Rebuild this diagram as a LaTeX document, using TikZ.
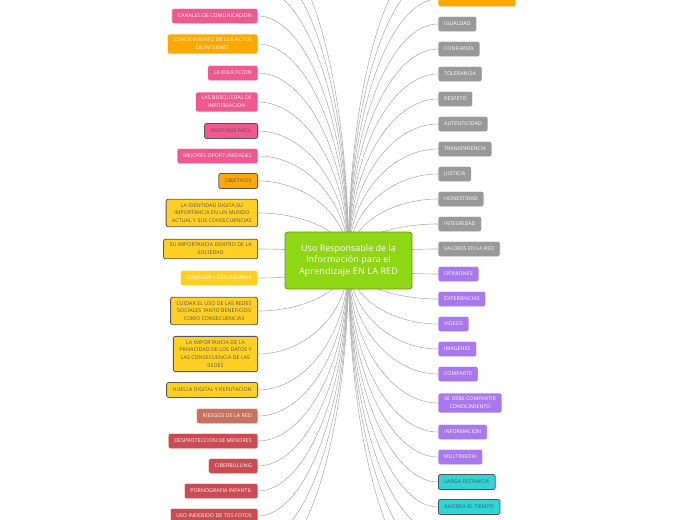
\documentclass[tikz,border=0pt]{standalone}
\usepackage{fontspec}
\setmainfont{Open Sans}[LetterSpace=2]
\usetikzlibrary{calc,backgrounds}
\definecolor{hubgreen}{HTML}{8FD714}
\definecolor{pinkc}{HTML}{F0588E}
\definecolor{orangec}{HTML}{FFA800}
\definecolor{yellowc}{HTML}{FFD023}
\definecolor{salmonc}{HTML}{C9705F}
\definecolor{redc}{HTML}{C84C52}
\definecolor{grayc}{HTML}{999999}
\definecolor{purplec}{HTML}{A879EE}
\definecolor{tealc}{HTML}{2ED6D6}
\definecolor{darkc}{HTML}{555555}
\tikzset{
  leaf/.style={rounded corners=2pt, inner xsep=6pt, inner ysep=4pt, minimum height=15pt, align=center,
    font=\fontsize{5.2}{7.8}\selectfont, text=white, draw=white, line width=0.4pt},
  lleaf/.style={leaf, anchor=east},
  rleaf/.style={leaf, anchor=west},
  framed/.style={draw=darkc, line width=0.8pt, text=darkc},
  link/.style={draw=black!30, line width=0.6pt},
}
\begin{document}
\begin{tikzpicture}[x=1pt,y=-1pt]
	\useasboundingbox (0,0) rectangle (697,520);
	\clip (0,0) rectangle (697,520);

	\node[draw=hubgreen!70!black, fill=hubgreen, rounded corners=3pt, line width=0.8pt,
	  text=white, align=center, font=\fontsize{9}{11.5}\selectfont,
	  minimum width=127pt, minimum height=57pt] (hub) at (348.5,260.5)
	  {\addfontfeature{LetterSpace=0}Uso Responsable de la\\Información para el\\Aprendizaje EN LA RED};

	% left side
	\node[lleaf, fill=pinkc] (canales) at (258,16) {CANALES DE COMUNICACION};
	\node[lleaf, fill=orangec] (actos) at (258,44) {CONOCIMIENTO DE LOS ACTOS\\DE INTERNET};
	\node[lleaf, fill=pinkc] (educacion) at (258,73) {LA EDUCACION};
	\node[lleaf, fill=pinkc] (busquedas) at (258,102) {LAS BUSQUEDAS DE\\INFORMACION};
	\node[lleaf, fill=pinkc, framed] (facil) at (258,131) {HACE MAS FACIL};
	\node[lleaf, fill=pinkc] (oportunidades) at (258,156) {MEJORES OPORTUNIDADES};
	\node[lleaf, fill=orangec, framed] (objetivos) at (258,181) {OBJETIVOS};
	\node[lleaf, fill=yellowc, framed] (identidad) at (258,213) {LA IDENTIDAD DIGITA,SU\\IMPORTANCIA EN UN MUNDO\\ACTUAL Y SUS CONSECUENCIAS};
	\node[lleaf, fill=yellowc, framed] (sociedad) at (258,249) {SU IMPORTANCIA DENTRO DE LA\\SOCIEDAD};
	\node[lleaf, fill=yellowc] (reflexionar) at (258,278) {CONOCER Y REFLEXIONAR};
	\node[lleaf, fill=yellowc, framed] (cuidar) at (258,311) {CUIDAR EL USO DE LAS REDES\\SOCIALES TANTO BENEFICIOS\\COMO CONSECUENCIAS};
	\node[lleaf, fill=yellowc, framed] (privacidad) at (258,354) {LA IMPORTANCIA DE LA\\PRIVACIDAD DE LOS DATOS Y\\LAS CONSECUENCIA DE LAS\\REDES};
	\node[lleaf, fill=yellowc, framed] (huella) at (258,390) {HUELLA DIGITAL  Y REPUTACION};
	\node[lleaf, fill=salmonc] (riesgos) at (258,416) {RIESGOS DE LA RED};
	\node[lleaf, fill=redc] (menores) at (258,441) {DESPROTECCION DE MENORES};
	\node[lleaf, fill=redc] (ciber) at (258,466) {CIBERBULLING};
	\node[lleaf, fill=redc] (porno) at (258,491) {PORNOGRAFIA INFANTIL};
	\node[lleaf, fill=redc] (fotos) at (258,516) {USO INDEBIDO DE TOS FOTOS};

	% right side
	\node[rleaf, fill=orangec] (reflexionarb) at (438,-1) {CONOCER Y REFLEXIONAR};
	\node[rleaf, fill=grayc] (igualdad) at (438,24) {IGUALDAD};
	\node[rleaf, fill=grayc] (confianza) at (438,49) {CONFIANZA};
	\node[rleaf, fill=grayc] (tolerancia) at (438,74) {TOLERANCIA};
	\node[rleaf, fill=grayc] (respeto) at (438,99) {RESPETO};
	\node[rleaf, fill=grayc] (autenticidad) at (438,124) {AUTENTICIDAD};
	\node[rleaf, fill=grayc] (transparencia) at (438,149) {TRANSPARENCIA};
	\node[rleaf, fill=grayc] (justicia) at (438,174) {JUSTICIA};
	\node[rleaf, fill=grayc] (honestidad) at (438,199) {HONESTIDAD};
	\node[rleaf, fill=grayc] (integridad) at (438,224) {INTEGRIDAD};
	\node[rleaf, fill=grayc] (valores) at (438,249) {VALORES EN LA RED};
	\node[rleaf, fill=purplec] (opiniones) at (438,274) {OPINIONES};
	\node[rleaf, fill=purplec] (experiencias) at (438,299) {EXPERIENCIAS};
	\node[rleaf, fill=purplec] (videos) at (438,324) {VIDEOS};
	\node[rleaf, fill=purplec] (imagenes) at (438,349) {IMAGENES};
	\node[rleaf, fill=purplec] (comparte) at (438,374) {COMPARTE};
	\node[rleaf, fill=purplec] (conocimiento) at (438,403) {SE DEBE COMPARTIR\\CONOCIMIENTO};
	\node[rleaf, fill=purplec] (informacion) at (438,432) {INFORMACION};
	\node[rleaf, fill=purplec] (multimedia) at (438,457) {MULTIMEDIA};
	\node[rleaf, fill=tealc, framed] (distancia) at (438,482) {LARGA DISTANCIA};
	\node[rleaf, fill=tealc, framed] (tiempo) at (438,507) {AHORRA EL TIEMPO};

	% branches leaving the frame
	\coordinate (upa) at (258,-12);
	\coordinate (upb) at (258,-38);
	\coordinate (upc) at (258,-64);
	\coordinate (upd) at (438,-26);
	\coordinate (upe) at (438,-52);
	\coordinate (downa) at (258,542);
	\coordinate (downb) at (258,568);
	\coordinate (downc) at (438,532);
	\coordinate (downd) at (438,558);
	\coordinate (downe) at (438,584);

	\begin{scope}[on background layer]
	\foreach \n in {canales,actos,educacion,busquedas,facil,oportunidades,objetivos,identidad,sociedad,reflexionar,cuidar,privacidad,huella,riesgos,menores,ciber,porno,fotos}
		\draw[link] (hub.center) .. controls ($(hub.center)!0.6!(hub.center |- \n.east)$) and ($(\n.east)+(45,0)$) .. (\n.east);
	\foreach \n in {upa,upb,upc,downa,downb}
		\draw[link] (hub.center) .. controls ($(hub.center)!0.6!(hub.center |- \n)$) and ($(\n)+(45,0)$) .. (\n);
	\foreach \n in {reflexionarb,igualdad,confianza,tolerancia,respeto,autenticidad,transparencia,justicia,honestidad,integridad,valores,opiniones,experiencias,videos,imagenes,comparte,conocimiento,informacion,multimedia,distancia,tiempo}
		\draw[link] (hub.center) .. controls ($(hub.center)!0.6!(hub.center |- \n.west)$) and ($(\n.west)+(-45,0)$) .. (\n.west);
	\foreach \n in {upd,upe,downc,downd,downe}
		\draw[link] (hub.center) .. controls ($(hub.center)!0.6!(hub.center |- \n)$) and ($(\n)+(-45,0)$) .. (\n);
	\end{scope}
\end{tikzpicture}
\end{document}
